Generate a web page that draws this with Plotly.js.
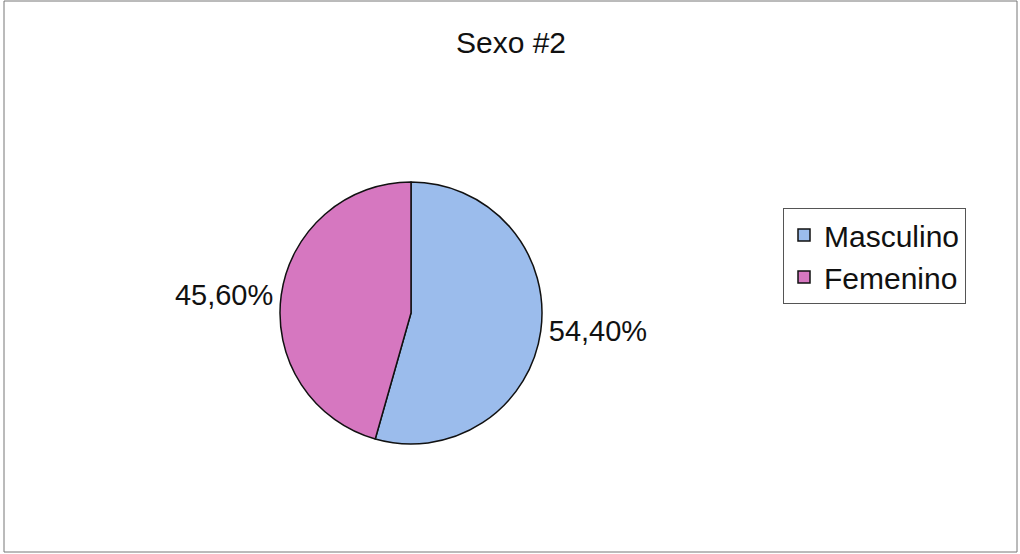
<!DOCTYPE html>
<html><head><meta charset="utf-8">
<script src="https://cdn.plot.ly/plotly-3.0.1.min.js"></script>
<style>html,body{margin:0;padding:0;background:#fff}#chart{width:1020px;height:554px}</style>
</head><body><div id="chart"></div>
<script>
const categories = ["Masculino", "Femenino"];
const values = [54.4, 45.6];
const colors = ["#9bbcec", "#d677c0"];
const titleText = "Sexo #2";

const FONT = "Liberation Sans, Arial, sans-serif";

const trace = {
  type: "pie",
  labels: categories,
  values: values,
  sort: false,
  direction: "clockwise",
  rotation: 0,
  marker: {colors: colors, line: {color: "#111", width: 1.5}},
  texttemplate: "%{value:.2f}%",
  textposition: "outside",
  textfont: {family: FONT, size: 29, color: "#111"},
  outsidetextfont: {family: FONT, size: 29, color: "#111"},
  hoverinfo: "label+percent",
  domain: {x: [280/1020, 542/1020], y: [(554-444)/554, (554-182)/554]},
  automargin: false
};

const layout = {
  width: 1020, height: 554,
  margin: {l: 0, r: 0, t: 0, b: 0},
  paper_bgcolor: "#fff",
  separators: ",.",
  font: {family: FONT, color: "#111"},
  title: {text: titleText, x: 511/1020, xanchor: "center", y: 1 - 42/554, yanchor: "middle",
          font: {size: 30, color: "#111", family: FONT}},
  showlegend: true,
  legend: {x: 783/1020, xanchor: "left", y: 1 - 208/554, yanchor: "top",
           bordercolor: "#555", borderwidth: 1, bgcolor: "#fff",
           font: {size: 30, color: "#111", family: FONT}, itemwidth: 30, tracegroupgap: 0,
           entrywidth: 150, entrywidthmode: "pixels"},
  shapes: [{type: "rect", xref: "paper", yref: "paper", x0: 4/1020, x1: 1017/1020, y0: 1 - 552/554, y1: 1 - 1/554,
            line: {color: "#777", width: 1}}]
};

Plotly.newPlot("chart", [trace], layout, {displayModeBar: false, staticPlot: true});
</script></body></html>
